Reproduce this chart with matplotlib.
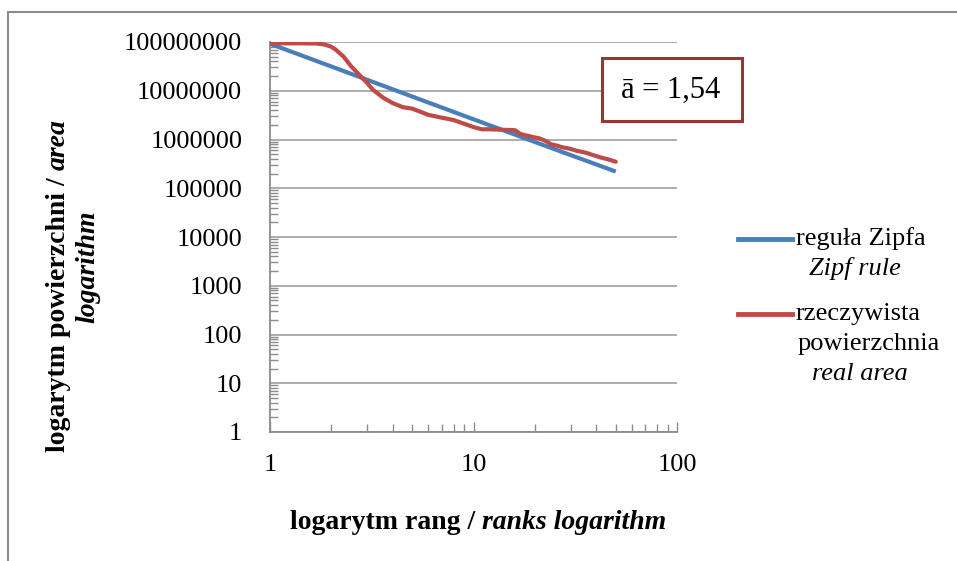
import matplotlib
matplotlib.use("Agg")

import matplotlib.pyplot as plt
from matplotlib.patches import Rectangle
from matplotlib.ticker import LogLocator, NullFormatter, FuncFormatter
from matplotlib.transforms import offset_copy

# Zipf rule (straight line in log-log), values read at a few ranks
zipf_rank = [1, 2, 5, 10, 20, 50]
zipf_area = [9.2e7, 3.15e7, 7.6e6, 2.6e6, 8.9e5, 2.2e5]

# real area by rank
real_rank = [1, 1.4, 1.7, 1.85, 2, 2.1, 2.3, 2.5, 2.8, 3, 3.2, 3.6, 4, 4.5, 5,
             6, 7, 8, 9, 10, 11, 12, 13, 14, 15, 16, 17, 18, 19, 20, 21, 22,
             23, 24, 25, 26, 27, 28, 29, 30, 32, 34, 36, 38, 40, 42, 45, 48,
             50]
real_area = [9.4e7, 9.4e7, 9.3e7, 8.9e7, 8.0e7, 7.0e7, 5.0e7, 3.2e7, 1.95e7,
             1.45e7, 1.05e7, 7.2e6, 5.6e6, 4.6e6, 4.3e6, 3.2e6, 2.8e6, 2.5e6,
             2.1e6, 1.8e6, 1.62e6, 1.62e6, 1.6e6, 1.58e6, 1.57e6, 1.55e6,
             1.3e6, 1.22e6, 1.16e6, 1.1e6, 1.06e6, 9.8e5, 9.0e5, 8.0e5, 7.7e5,
             7.4e5, 7.0e5, 6.8e5, 6.6e5, 6.4e5, 5.9e5, 5.6e5, 5.3e5, 4.9e5,
             4.6e5, 4.3e5, 4.0e5, 3.7e5, 3.5e5]

a_label = "ā = 1,54"
SERIF = ["Liberation Serif", "DejaVu Serif"]

fig = plt.figure(figsize=(9.57, 5.61), dpi=100)
ax = fig.add_axes([270 / 957, 1 - 432 / 561, 407 / 957, 390 / 561])

# outer chart frame
fig.patches.append(Rectangle((8 / 957, -0.05), 1.0, 1 - 12 / 561 + 0.05,
                             transform=fig.transFigure, fill=False,
                             ec="#8c8c8c", lw=1.5, zorder=0))

ax.plot(zipf_rank, zipf_area, color="#4A7EBB", lw=3, solid_capstyle="butt",
        zorder=3)
ax.plot(real_rank, real_area, color="#BE4B48", lw=3, solid_capstyle="round",
        solid_joinstyle="round", zorder=4)

ax.set_xscale("log")
ax.set_yscale("log")
ax.set_xlim(1, 100)
ax.set_ylim(1, 1e8)

ax.yaxis.set_major_locator(LogLocator(base=10, numticks=12))
ax.yaxis.set_minor_locator(LogLocator(base=10, subs=range(2, 10), numticks=12))
ax.yaxis.set_minor_formatter(NullFormatter())
ax.xaxis.set_minor_formatter(NullFormatter())
fmt = FuncFormatter(lambda v, p: f"{v:.0f}")
ax.xaxis.set_major_formatter(fmt)
ax.yaxis.set_major_formatter(fmt)

ax.grid(axis="y", which="major", color="#a6a6a6", lw=1.3)
ax.set_axisbelow(True)
for s in ("top", "right"):
    ax.spines[s].set_visible(False)
for s in ("left", "bottom"):
    ax.spines[s].set_color("#8c8c8c")
    ax.spines[s].set_linewidth(1.3)

ax.tick_params(which="both", direction="in", color="#8c8c8c", width=1)
ax.tick_params(which="major", length=7)
ax.tick_params(which="minor", length=6)
ax.tick_params(axis="y", which="major", length=0, pad=20)
ax.tick_params(axis="x", which="major", pad=16)
for lab in ax.get_xticklabels() + ax.get_yticklabels():
    lab.set_family(SERIF)
    lab.set_fontsize(19)


def chain(x, y, parts, rotation=0, **kw):
    """Place text pieces one after another along the reading direction."""
    renderer = fig.canvas.get_renderer()
    trans = fig.transFigure
    for txt, style in parts:
        t = fig.text(x, y, txt, transform=trans, family=SERIF, style=style,
                     rotation=rotation, rotation_mode="anchor",
                     ha="left", va="baseline", **kw)
        bb = t.get_window_extent(renderer)
        if rotation == 90:
            trans = offset_copy(trans, fig=fig, y=bb.height * 72 / fig.dpi,
                                units="points")
        else:
            trans = offset_copy(trans, fig=fig, x=bb.width * 72 / fig.dpi,
                                units="points")


# axis titles: bold serif, english part in italics
chain(290 / 957, 1 - 529 / 561,
      [("logarytm rang / ", "normal"), ("ranks logarithm", "italic")],
      fontsize=20, fontweight="bold")
chain(65 / 957, 1 - 452 / 561,
      [("logarytm powierzchni / ", "normal"), ("area", "italic")],
      rotation=90, fontsize=20, fontweight="bold")
fig.text(88 / 957, 1 - 267 / 561, "logarithm", family=SERIF, fontsize=20,
         fontweight="bold", style="italic", rotation=90, ha="center",
         va="center")

# legend drawn by hand to match multi-line bilingual entries
fig.add_artist(plt.Line2D([738 / 957, 792 / 957], [1 - 239 / 561] * 2,
                          color="#4A7EBB", lw=3.5,
                          transform=fig.transFigure))
fig.add_artist(plt.Line2D([738 / 957, 792 / 957], [1 - 314 / 561] * 2,
                          color="#BE4B48", lw=3.5,
                          transform=fig.transFigure))
fig.text(796 / 957, 1 - 239 / 561, "reguła Zipfa", family=SERIF, fontsize=19,
         ha="left", va="center")
fig.text(809 / 957, 1 - 268 / 561, "Zipf rule", family=SERIF, fontsize=19,
         style="italic", ha="left", va="center")
fig.text(796 / 957, 1 - 314 / 561, "rzeczywista", family=SERIF, fontsize=19,
         ha="left", va="center")
fig.text(798 / 957, 1 - 344 / 561, "powierzchnia", family=SERIF, fontsize=19,
         ha="left", va="center")
fig.text(812 / 957, 1 - 374 / 561, "real area", family=SERIF, fontsize=19,
         style="italic", ha="left", va="center")

# exponent box
fig.patches.append(Rectangle((602 / 957, 1 - 121 / 561), 140 / 957, 63 / 561,
                             transform=fig.transFigure, fc="white",
                             ec="#953735", lw=2.2, zorder=5))
fig.text(671 / 957, 1 - 90 / 561, a_label, family=SERIF, fontsize=22,
         ha="center", va="center", zorder=6)

fig.savefig("out.png", dpi=100)
